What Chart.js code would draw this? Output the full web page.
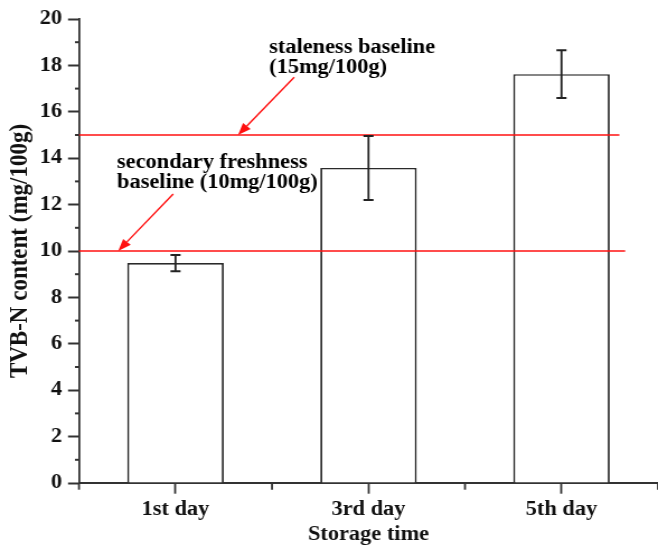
<!DOCTYPE html>
<html><head><meta charset="utf-8">
<script src="https://cdn.jsdelivr.net/npm/chart.js@4.4.1/dist/chart.umd.min.js"></script>
<style>
html,body{margin:0;padding:0;background:#fff;overflow:hidden;}
#wrap{width:658px;height:545px;overflow:hidden;}
canvas{display:block;transform:scaleX(1.119);transform-origin:0 0;}
</style></head><body>
<div id="wrap"><canvas id="c" width="588" height="545"></canvas></div>
<script>
// ---- data ----
const categories = ['1st day', '3rd day', '5th day'];
const tvbnValues = [9.48, 13.58, 17.62];
const tvbnErrors = [0.35, 1.38, 1.03];
const baselineValues = [15, 10];
const annotationTexts = [
  ['staleness baseline', '(15mg/100g)'],
  ['secondary freshness', 'baseline (10mg/100g)']
];
const yTickMax = 20;
const yTickStep = 2;

// ---- annotation placement (in data units of the chart's scales) ----
const baselineEnds = [2.30, 2.33];
const annotationAnchors = [
  {x: 0.485, y: [18.52, 17.69]},
  {x: -0.303, y: [13.59, 12.70]}
];
const arrowTails = [{x: 0.615, y: 17.49}, {x: -0.012, y: 12.46}];
const arrowHeadsX = [0.324, -0.297];

const FONT = '"Liberation Serif", "Times New Roman", serif';
const AXIS = '#333';

const overlay = {
  id: 'overlay',
  afterDatasetsDraw(chart) {
    const {ctx, chartArea, scales: {x, y}} = chart;
    ctx.save();
    // baselines
    ctx.strokeStyle = '#ff1010';
    ctx.lineWidth = 1.7;
    baselineValues.forEach((v, i) => {
      const py = y.getPixelForValue(v);
      ctx.beginPath();
      ctx.moveTo(chartArea.left, py);
      ctx.lineTo(x.getPixelForValue(baselineEnds[i]), py);
      ctx.stroke();
    });
    // arrows
    ctx.fillStyle = '#ff1010';
    ctx.lineWidth = 1.4;
    arrowTails.forEach((t, i) => {
      const x0 = x.getPixelForValue(t.x), y0 = y.getPixelForValue(t.y);
      const x1 = x.getPixelForValue(arrowHeadsX[i]), y1 = y.getPixelForValue(baselineValues[i]);
      const a = Math.atan2(y1 - y0, x1 - x0);
      const L = 12, W = 4.5;
      const bx = x1 - L * Math.cos(a), by = y1 - L * Math.sin(a);
      ctx.beginPath(); ctx.moveTo(x0, y0); ctx.lineTo(bx, by); ctx.stroke();
      ctx.beginPath();
      ctx.moveTo(x1, y1);
      ctx.lineTo(bx + W * Math.sin(a), by - W * Math.cos(a));
      ctx.lineTo(bx - W * Math.sin(a), by + W * Math.cos(a));
      ctx.closePath(); ctx.fill();
    });
    // error bars
    ctx.strokeStyle = '#222';
    const meta = chart.getDatasetMeta(0);
    meta.data.forEach((bar, i) => {
      const cx = bar.x;
      const yt = y.getPixelForValue(tvbnValues[i] + tvbnErrors[i]);
      const yb = y.getPixelForValue(tvbnValues[i] - tvbnErrors[i]);
      ctx.lineWidth = 1.8;
      ctx.beginPath(); ctx.moveTo(cx, yt); ctx.lineTo(cx, yb); ctx.stroke();
      ctx.lineWidth = 2;
      ctx.beginPath();
      ctx.moveTo(cx - 4.5, yt); ctx.lineTo(cx + 4.5, yt);
      ctx.moveTo(cx - 4.5, yb); ctx.lineTo(cx + 4.5, yb);
      ctx.stroke();
    });
    // annotation text
    ctx.fillStyle = '#000';
    ctx.font = 'bold 20px ' + FONT;
    ctx.textAlign = 'left';
    ctx.textBaseline = 'alphabetic';
    annotationTexts.forEach((lines, i) => {
      const an = annotationAnchors[i];
      lines.forEach((s, j) => {
        ctx.fillText(s, x.getPixelForValue(an.x), y.getPixelForValue(an.y[j]));
      });
    });
    ctx.restore();
  },
  afterDraw(chart) {
    const {ctx, chartArea, scales: {x, y}} = chart;
    ctx.save();
    ctx.strokeStyle = AXIS;
    // minor y ticks
    ctx.lineWidth = 2;
    for (let v = 1; v < yTickMax; v += yTickStep) {
      const py = y.getPixelForValue(v);
      ctx.beginPath(); ctx.moveTo(chartArea.left - 3.6, py); ctx.lineTo(chartArea.left, py); ctx.stroke();
    }
    // minor x ticks at category boundaries
    ctx.lineWidth = 1.8;
    for (let i = 0; i <= categories.length; i++) {
      const px = x.getPixelForValue(i - 0.5);
      ctx.beginPath(); ctx.moveTo(px, chartArea.bottom); ctx.lineTo(px, chartArea.bottom + 6.7); ctx.stroke();
    }
    ctx.restore();
  }
};

new Chart(document.getElementById('c'), {
  type: 'bar',
  data: {
    labels: categories,
    datasets: [{
      label: 'TVB-N content',
      data: tvbnValues,
      backgroundColor: '#ffffff',
      borderColor: '#2a2a2a',
      borderWidth: {top: 1.6, left: 1.8, right: 1.8, bottom: 0},
      borderSkipped: false,
      barPercentage: 0.5,
      categoryPercentage: 1.0
    }]
  },
  options: {
    responsive: false,
    animation: false,
    devicePixelRatio: 1,
    layout: {padding: {top: 19, left: 0, right: 0, bottom: 0}},
    plugins: {legend: {display: false}, tooltip: {enabled: false}},
    scales: {
      x: {
        type: 'category',
        offset: true,
        border: {display: true, color: AXIS, width: 2},
        grid: {display: true, offset: false, drawOnChartArea: false, drawTicks: true,
               tickLength: 10.7, tickWidth: 1.8, tickColor: AXIS},
        ticks: {color: '#111', padding: 4, font: {family: FONT, size: 20, weight: 'bold'}},
        title: {display: true, text: 'Storage time', color: '#111',
                font: {family: FONT, size: 20, weight: 'bold', lineHeight: 1},
                padding: {top: 0, bottom: 0}},
        afterFit(s) { s.height = 62; }
      },
      y: {
        min: 0, max: yTickMax,
        border: {display: true, color: AXIS, width: 1.8},
        grid: {display: true, drawOnChartArea: false, drawTicks: true,
               tickLength: 9.8, tickWidth: 2, tickColor: AXIS},
        ticks: {stepSize: yTickStep, color: '#111', padding: 5.4,
                font: {family: FONT, size: 20, weight: 'bold'}},
        title: {display: true, text: 'TVB-N content (mg/100g)', color: '#111',
                font: {family: FONT, size: 23, weight: 'bold', lineHeight: 1.2},
                padding: {top: 4, bottom: 0}},
        afterFit(s) { s.width = 70.6; }
      }
    }
  },
  plugins: [overlay]
});
</script>
</body></html>
